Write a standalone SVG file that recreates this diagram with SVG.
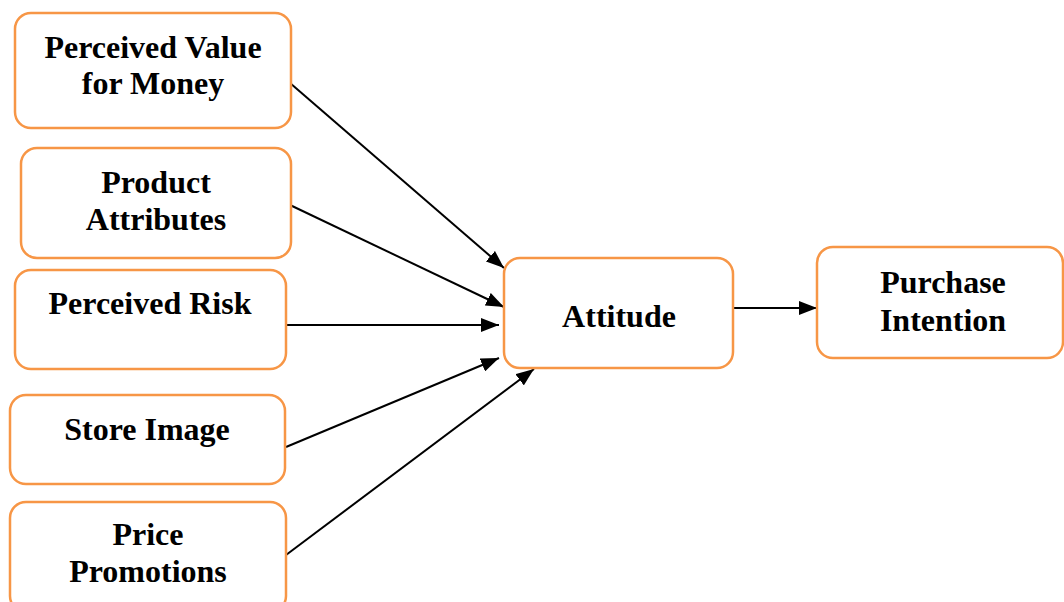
<svg xmlns="http://www.w3.org/2000/svg" width="1064" height="602" viewBox="0 0 1064 602">
<style>
.box{fill:#fff;stroke:#F79646;stroke-width:2.5}
.t{font-family:"Liberation Serif","Times New Roman",serif;font-weight:bold;font-size:32px;fill:#000;text-anchor:middle}
.c{stroke:#000;stroke-width:2;fill:none;marker-end:url(#ah)}
</style>
<defs>
<marker id="ah" markerUnits="userSpaceOnUse" markerWidth="20" markerHeight="14" refX="18" refY="7" orient="auto">
<path d="M0,0 L18,7 L0,14 z" fill="#000"/>
</marker>
</defs>
<rect width="1064" height="602" fill="#fff"/>
<g id="connectors">
<line class="c" x1="290" y1="83" x2="504" y2="268"/>
<line class="c" x1="290" y1="205" x2="504" y2="307"/>
<line class="c" x1="286" y1="325" x2="499" y2="325"/>
<line class="c" x1="286" y1="447" x2="499" y2="358"/>
<line class="c" x1="286" y1="555" x2="534" y2="369"/>
<line class="c" x1="733" y1="308" x2="817" y2="308"/>
</g>
<g id="n1"><rect class="box" x="15" y="13" width="276" height="115" rx="16"/>
<text class="t" x="153" y="58">Perceived Value</text><text class="t" x="153" y="94">for Money</text></g>
<g id="n2"><rect class="box" x="21" y="148" width="270" height="110" rx="16"/>
<text class="t" x="156" y="193">Product</text><text class="t" x="156" y="230">Attributes</text></g>
<g id="n3"><rect class="box" x="15" y="270" width="271" height="99" rx="16"/>
<text class="t" x="150" y="314">Perceived Risk</text></g>
<g id="n4"><rect class="box" x="10" y="395" width="275" height="89" rx="16"/>
<text class="t" x="147" y="440">Store Image</text></g>
<g id="n5"><rect class="box" x="10" y="502" width="276" height="110" rx="16"/>
<text class="t" x="148" y="545">Price</text><text class="t" x="148" y="582">Promotions</text></g>
<g id="n6"><rect class="box" x="504" y="258" width="229" height="110" rx="16"/>
<text class="t" x="619" y="327">Attitude</text></g>
<g id="n7"><rect class="box" x="817" y="247" width="246" height="111" rx="16"/>
<text class="t" x="943" y="293">Purchase</text><text class="t" x="943" y="331">Intention</text></g>
</svg>
